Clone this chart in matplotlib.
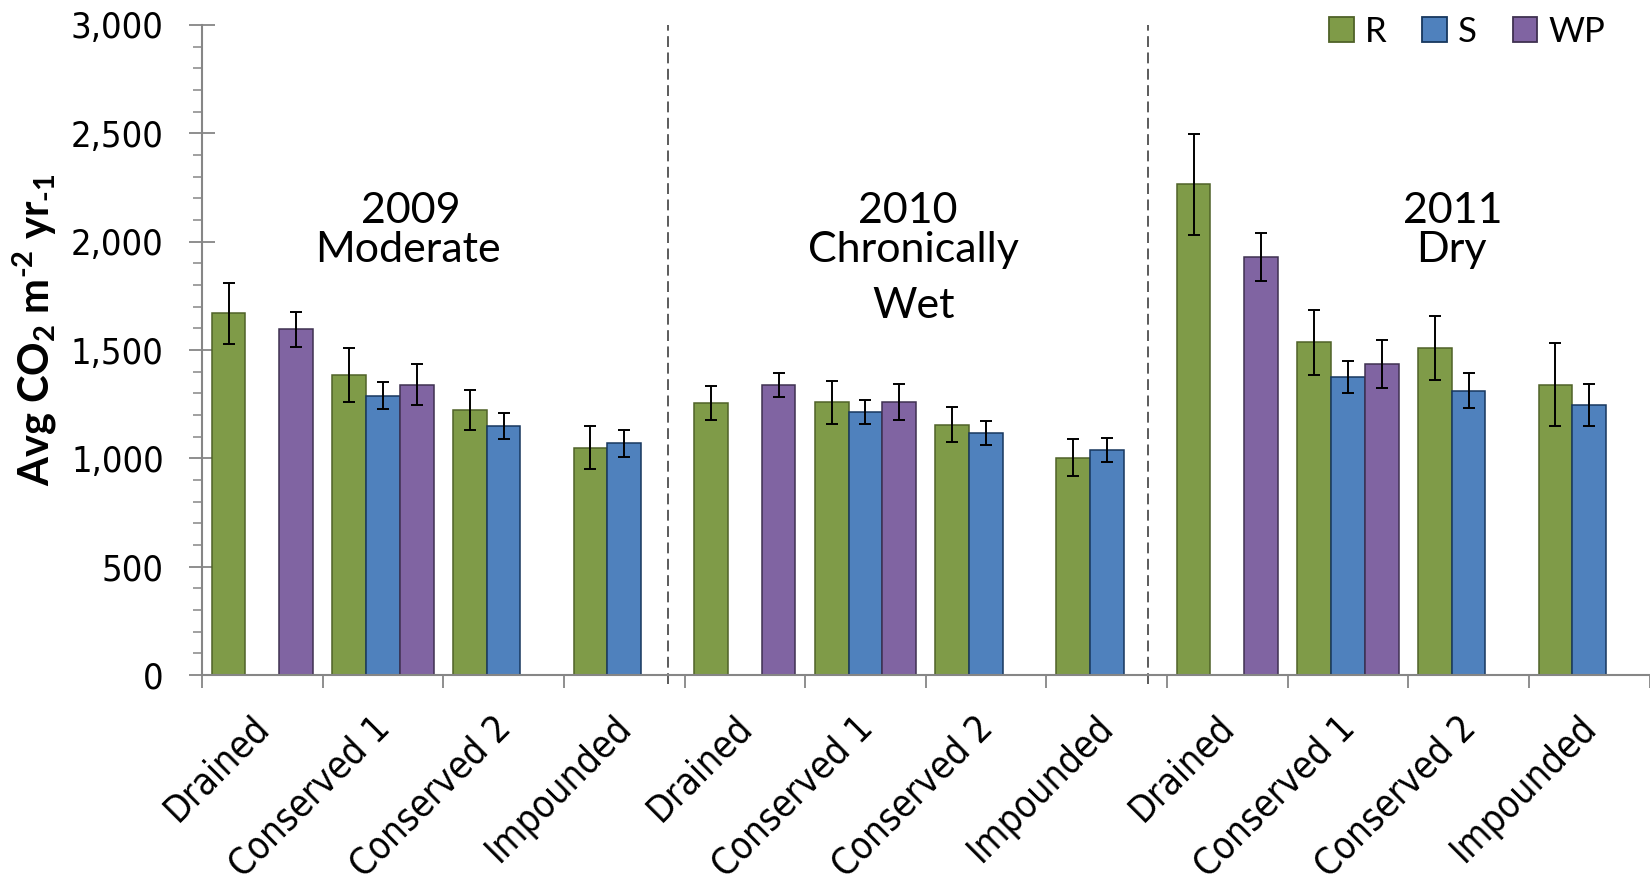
import os
import numpy as np
import matplotlib
matplotlib.use("Agg")
import matplotlib.pyplot as plt
import matplotlib.transforms as mtransforms
from matplotlib import font_manager as fm
from matplotlib.patches import Patch
from matplotlib.ticker import MultipleLocator, FixedLocator, FuncFormatter

nan = np.nan

# ---- data -----------------------------------------------------------------
sites = ["Drained", "Conserved 1", "Conserved 2", "Impounded"]
categories = sites * 3                       # 2009, 2010, 2011 blocks

series_names = ["R", "S", "WP"]

r_mean = [1670, 1385, 1225, 1050, 1255, 1258, 1155, 1003, 2265, 1535, 1510, 1340]
r_err = [140, 123, 92, 100, 79, 100, 80, 85, 232, 150, 147, 193]

s_mean = [nan, 1290, 1150, 1070, nan, 1215, 1118, 1038, nan, 1375, 1313, 1247]
s_err = [nan, 62, 60, 62, nan, 55, 55, 57, nan, 72, 82, 98]

wp_mean = [1595, 1340, nan, nan, 1337, 1260, nan, nan, 1928, 1437, nan, nan]
wp_err = [80, 96, nan, nan, 56, 83, nan, nan, 111, 111, nan, nan]

year_labels = ["2009", "2010", "2011"]
condition_labels = ["Moderate", "Chronically", "Dry"]
extra_condition_label = "Wet"

# ---- style ----------------------------------------------------------------
fills = ["#7F9B48", "#4F81BD", "#8064A2"]
edges = ["#4F6228", "#17375E", "#3F3151"]
axis_grey = "#868686"

# tick-label face: a condensed humanist sans if available
cond_path = None
for f in fm.fontManager.ttflist:
    if os.path.basename(f.fname) == "DejaVuSansCondensed.ttf":
        cond_path = f.fname
        break
if cond_path:
    ytick_fp = fm.FontProperties(fname=cond_path, size=26)
    xtick_fp = fm.FontProperties(fname=cond_path, size=26.8)
else:
    ytick_fp = fm.FontProperties(family="DejaVu Sans", size=23.5)
    xtick_fp = fm.FontProperties(family="DejaVu Sans", size=24)

plt.rcParams["mathtext.fontset"] = "custom"
plt.rcParams["mathtext.rm"] = "Lato:bold"
plt.rcParams["mathtext.it"] = "Lato:bold"
plt.rcParams["mathtext.bf"] = "Lato:bold"

W, H = 1650, 881
fig = plt.figure(figsize=(W / 100, H / 100), dpi=100)
ax_left, ax_right, ax_top, ax_bottom = 202, 1649.5, 25, 675
ax = fig.add_axes([ax_left / W, 1 - ax_bottom / H,
                   (ax_right - ax_left) / W, (ax_bottom - ax_top) / H])

x = np.arange(len(categories))
bw = 0.28
offsets = [-bw, 0.0, bw]
means = [r_mean, s_mean, wp_mean]
errs = [r_err, s_err, wp_err]

for name, m, e, off, fc, ec in zip(series_names, means, errs, offsets, fills, edges):
    ax.bar(x + off, np.asarray(m, float), bw, yerr=np.asarray(e, float),
           color=fc, edgecolor=ec, linewidth=1.1, label=name, zorder=2,
           error_kw=dict(ecolor="black", elinewidth=1.4, capsize=4.5,
                         capthick=1.4, zorder=3))

ax.set_xlim(-0.5, len(categories) - 0.5)
ax.set_ylim(0, 3000)

for side in ("top", "right"):
    ax.spines[side].set_visible(False)
for side in ("left", "bottom"):
    ax.spines[side].set_color(axis_grey)
    ax.spines[side].set_linewidth(1.5)

# y axis
ax.yaxis.set_major_locator(MultipleLocator(500))
ax.yaxis.set_minor_locator(MultipleLocator(100))
ax.yaxis.set_major_formatter(FuncFormatter(lambda v, p: f"{v:,.0f}"))
ax.tick_params(axis="y", which="major", direction="inout", length=19,
               width=1.3, color=axis_grey, pad=18)
ax.tick_params(axis="y", which="minor", direction="out", length=6.5,
               width=1.1, color=axis_grey)
for lab in ax.get_yticklabels():
    lab.set_fontproperties(ytick_fp)

# x axis: labels at category centres, tick marks at category boundaries
ax.xaxis.set_major_locator(FixedLocator(x))
ax.xaxis.set_minor_locator(FixedLocator(np.arange(len(categories) + 1) - 0.5))
ax.set_xticklabels(categories)
ax.tick_params(axis="x", which="major", length=0, pad=24.3)
ax.tick_params(axis="x", which="minor", direction="out", length=9.5,
               width=1.3, color=axis_grey)
shift = mtransforms.ScaledTranslation(-11.6 / 100, 0, fig.dpi_scale_trans)
for lab in ax.get_xticklabels():
    lab.set_fontproperties(xtick_fp)
    lab.set_rotation(45)
    lab.set_ha("right")
    lab.set_va("top")
    lab.set_rotation_mode("anchor")
    lab.set_transform(lab.get_transform() + shift)

ax.set_ylabel(r"Avg CO$_2$ m$^{\text{-}2}$ yr$_{\text{-}1}$", fontsize=30,
              fontfamily="Lato", fontweight="bold")
ax.yaxis.label.set_va("center")
ax.yaxis.set_label_coords(35 / W, 1 - 330 / H, transform=fig.transFigure)

# dashed separators between the three years
blend = mtransforms.blended_transform_factory(ax.transData, ax.transAxes)
for xs in (3.36, 7.34):
    ax.plot([xs, xs], [-0.014, 1.0], transform=blend, color="#404040",
            lw=1.2, linestyle=(0, (6.5, 3.3)), clip_on=False, zorder=1)

# year / condition headings
txt = dict(ha="center", va="baseline", fontsize=31, fontfamily="Lato")
year_x = [1.23, 5.35, 9.87]
cond_x = [1.21, 5.40, 9.86]
for yl, cl, xy, xc in zip(year_labels, condition_labels, year_x, cond_x):
    ax.text(xy, 2085, yl, **txt)
    ax.text(xc, 1905, cl, **txt)
ax.text(5.40, 1648, extra_condition_label, **txt)

# legend
handles = [Patch(facecolor=fc, edgecolor=ec, linewidth=1.3)
           for fc, ec in zip(fills, edges)]
fig.legend(handles, series_names, loc="center left",
           bbox_to_anchor=(1329 / W, 1 - 31.7 / H), ncol=3, frameon=False,
           prop=fm.FontProperties(family="Lato", size=25),
           handlelength=0.71, handleheight=0.71, handletextpad=0.32,
           columnspacing=1.03, borderpad=0, borderaxespad=0)

fig.savefig("out.png", dpi=100, facecolor="white")
